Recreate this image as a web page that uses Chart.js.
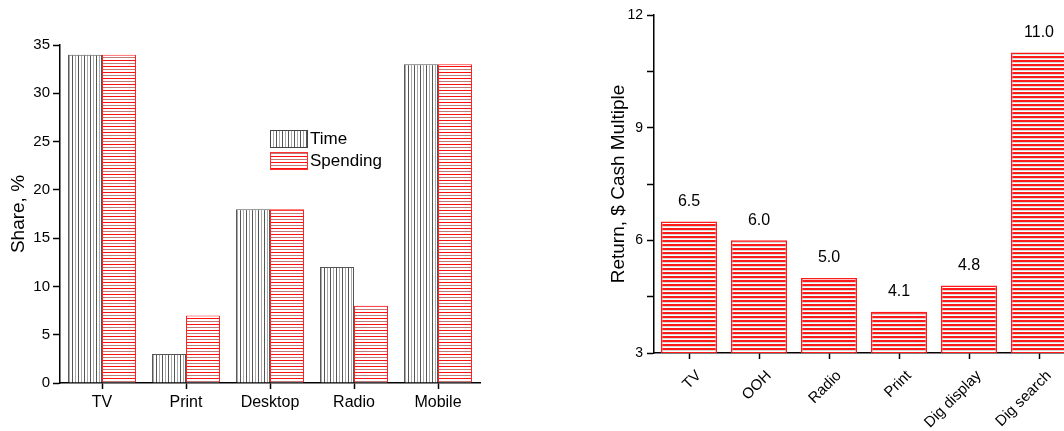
<!DOCTYPE html>
<html>
<head>
<meta charset="utf-8">
<script src="https://cdn.jsdelivr.net/npm/chart.js@4.4.0/dist/chart.umd.min.js"></script>
<style>
html,body{margin:0;padding:0;background:#fff;overflow:hidden;width:1064px;height:431px;}
#left{position:absolute;left:0;top:0;}
#right{position:absolute;left:520px;top:0;}
</style>
</head>
<body>
<canvas id="left" width="500" height="431"></canvas>
<canvas id="right" width="564" height="431"></canvas>
<script>
/* 데이터 */
const mediaLabels=["TV","Print","Desktop","Radio","Mobile"];
const timeShare=[34,3,18,12,33];
const spendShare=[34,7,18,8,33];

const returnLabels=["TV","OOH","Radio","Print","Dig display","Dig search"];
const returnValues=[6.5,6.0,5.0,4.1,4.8,11.0];

const FONT="'Liberation Sans', Arial, sans-serif";

/* 패턴 */
function makePattern(w,h,draw){
let c=document.createElement("canvas");
c.width=w;c.height=h;
let x=c.getContext("2d");
x.fillStyle="#fff";x.fillRect(0,0,w,h);
draw(x);
return x.createPattern(c,"repeat");
}

let timePat=makePattern(6,1,x=>{
x.fillStyle="#555";x.fillRect(0,0,1,1);
x.fillStyle="#aaa";x.fillRect(3,0,1,1);
});
let spendPat=makePattern(1,6,x=>{
x.fillStyle="#ff1010";x.fillRect(0,0,1,1);
x.fillStyle="#c07a7a";x.fillRect(0,3,1,1);
});
let returnPat=makePattern(1,4,x=>{
x.fillStyle="#ff1a1a";x.fillRect(0,0,1,2);
x.fillStyle="#d8d8d8";x.fillRect(0,2,1,1);
});

/* 범례 */
const boxLegend={
id:"boxLegend",
afterDraw(chart){
let c=chart.ctx,a=chart.chartArea;
let x=a.left+210,y=a.top+85;
[["Time",timePat,"#444"],["Spending",spendPat,"#ff3030"]].forEach((it,i)=>{
let yy=y+i*22;
c.save();
c.fillStyle=it[1];c.fillRect(x,yy,38,18);
c.strokeStyle=it[2];c.lineWidth=1;c.strokeRect(x+0.5,yy+0.5,37,17);
c.fillStyle="#000";c.font="17px "+FONT;c.textBaseline="middle";
c.fillText(it[0],x+40,yy+9);
c.restore();
});
}
};

/* 값 라벨 */
const valueLabels={
id:"valueLabels",
afterDatasetsDraw(chart){
let c=chart.ctx;
chart.getDatasetMeta(0).data.forEach((bar,i)=>{
c.save();
c.fillStyle="#000";c.font="16px "+FONT;
c.textAlign="center";c.textBaseline="middle";
c.fillText(returnValues[i].toFixed(1),bar.x,bar.y-20);
c.restore();
});
}
};

/* 왼쪽 */
new Chart(document.getElementById("left"),{
type:"bar",
data:{
labels:mediaLabels,
datasets:[
{label:"Time",data:timeShare,backgroundColor:timePat,borderColor:"#555",borderWidth:1,categoryPercentage:0.81,barPercentage:1},
{label:"Spending",data:spendShare,backgroundColor:spendPat,borderColor:"#ff2020",borderWidth:1,categoryPercentage:0.81,barPercentage:1}
]},
options:{
responsive:false,animation:false,
layout:{padding:{left:0,top:45,right:20,bottom:0}},
plugins:{legend:{display:false},tooltip:{enabled:false}},
scales:{
x:{
grid:{offset:false,drawOnChartArea:false,tickLength:6,tickColor:"#000",tickWidth:1.5},
border:{display:true,color:"#000",width:1.5},
ticks:{color:"#000",font:{family:FONT,size:16},padding:4},
afterFit(s){s.height=48;}
},
y:{
min:0,max:35,
grid:{drawOnChartArea:false,tickLength:7,tickColor:"#000",tickWidth:1.5},
border:{display:true,color:"#000",width:1.5},
ticks:{stepSize:5,color:"#000",font:{family:FONT,size:15},padding:3},
title:{display:true,text:"Share, %",color:"#000",font:{family:FONT,size:19},padding:{top:7,bottom:0}},
afterFit(s){s.width=60;}
}
}
},
plugins:[boxLegend]
});

/* 오른쪽 */
new Chart(document.getElementById("right"),{
type:"bar",
data:{
labels:returnLabels,
datasets:[
{label:"Return",data:returnValues,backgroundColor:returnPat,borderColor:"#ff1a1a",borderWidth:1.5,categoryPercentage:0.8,barPercentage:1}
]},
options:{
responsive:false,animation:false,
layout:{padding:{left:0,top:15,right:10,bottom:0}},
plugins:{legend:{display:false},tooltip:{enabled:false}},
scales:{
x:{
grid:{offset:false,drawOnChartArea:false,tickLength:6,tickColor:"#000",tickWidth:1.5},
border:{display:true,color:"#000",width:1.5},
ticks:{color:"#000",font:{family:FONT,size:15},minRotation:45,maxRotation:45,padding:8,labelOffset:10},
afterFit(s){s.height=78;}
},
y:{
min:3,max:12,
grid:{drawOnChartArea:false,tickLength:7,tickColor:"#000",tickWidth:1.5},
border:{display:true,color:"#000",width:1.5},
ticks:{stepSize:1.5,color:"#000",font:{family:FONT,size:14},padding:4,
callback:v=>(v%3===0?v:"")},
title:{display:true,text:"Return, $ Cash Multiple",color:"#000",font:{family:FONT,size:19},padding:{top:87,bottom:0}},
afterFit(s){s.width=134;}
}
}
},
plugins:[valueLabels]
});
</script>
</body>
</html>
